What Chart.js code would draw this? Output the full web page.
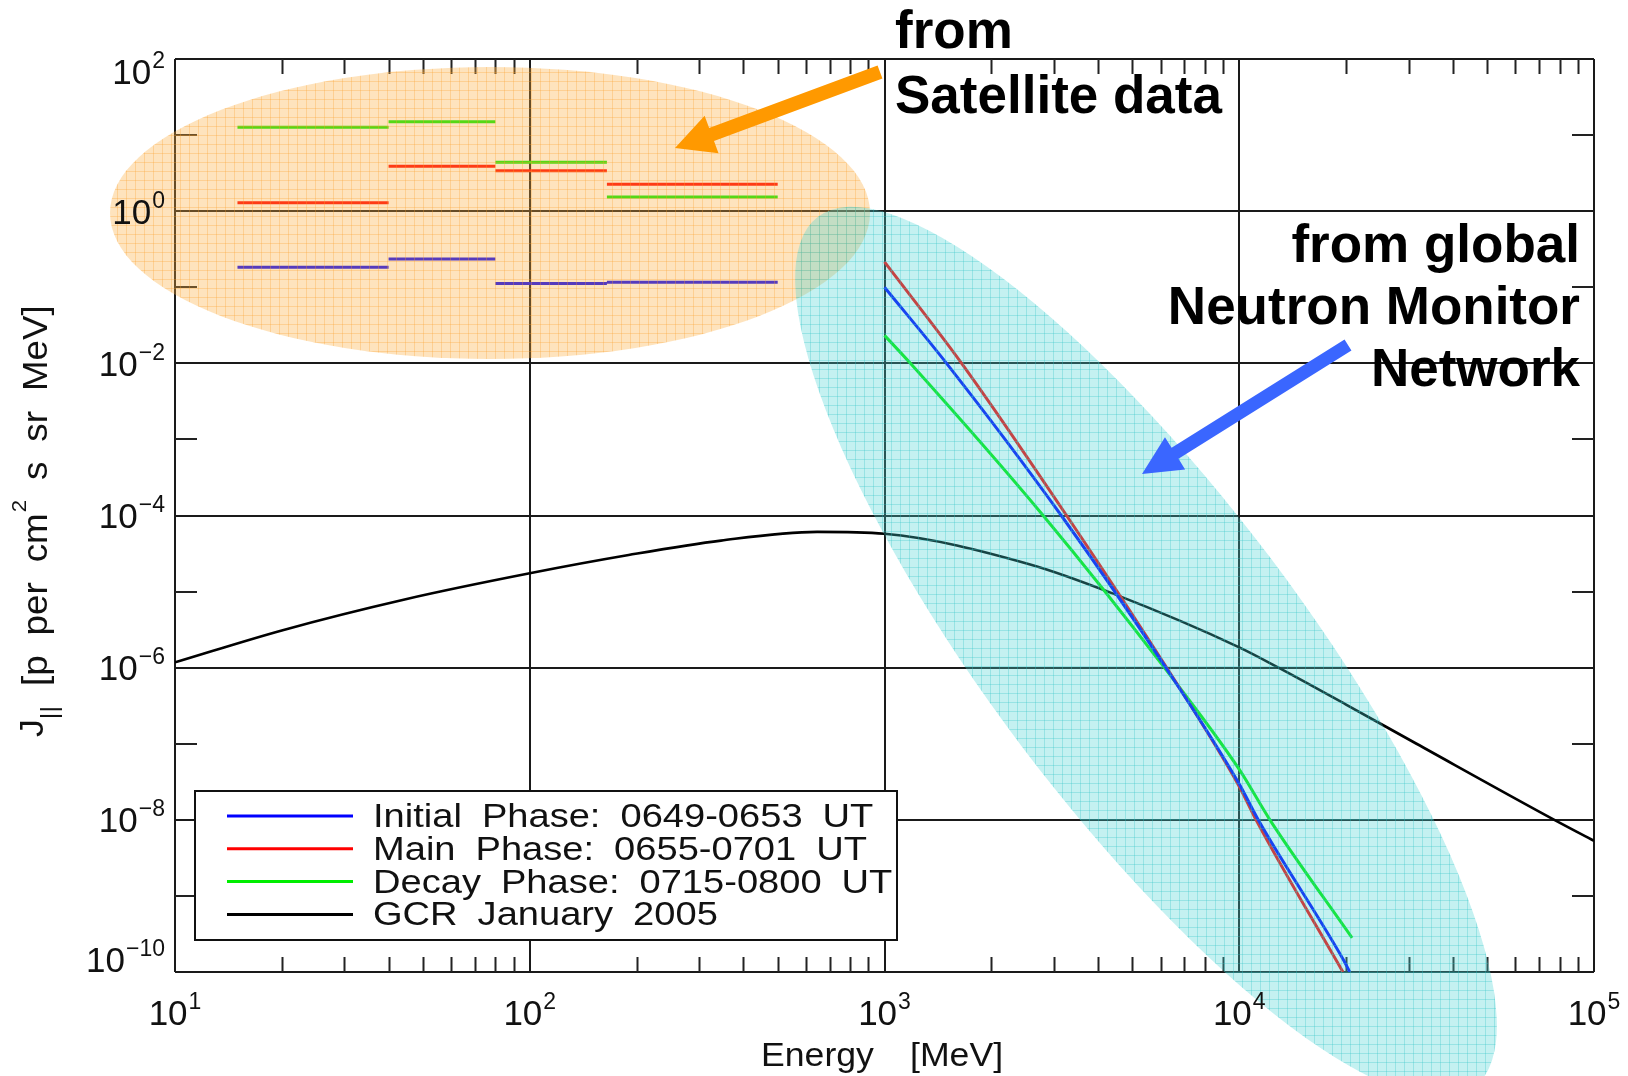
<!DOCTYPE html>
<html>
<head>
<meta charset="utf-8">
<script src="https://cdn.jsdelivr.net/npm/chart.js@4.4.1/dist/chart.umd.min.js"></script>
<style>
  html, body { margin: 0; padding: 0; background: #fff; }
  #wrap { width: 1628px; height: 1076px; }
</style>
</head>
<body>
<div id="wrap"><canvas id="fluxChart" width="1628" height="1076"></canvas></div>
<script>
// satellite channel edges [MeV] and fluxes per phase
var satEdges = [15, 40, 80, 165, 500];
var satInitial = [0.183, 0.236, 0.112, 0.116];
var satMain = [1.29, 3.9, 3.39, 2.26];
var satDecay = [12.7, 15.0, 4.4, 1.54];

// spectra from the neutron monitor network
var nmInitialE = [1000, 1496, 3150, 6210, 10000, 11310, 19600, 20500];
var nmInitialJ = [1.0e-1, 1e-2, 1e-4, 1e-6, 2.95e-8, 1e-8, 1.48e-10, 1e-10];
var nmMainE = [1000, 1650, 3260, 6240, 10000, 11150, 19600];
var nmMainJ = [2.15e-1, 1e-2, 1e-4, 1e-6, 2.75e-8, 1e-8, 1e-10];
var nmDecayE = [1000, 1183, 2800, 6150, 10000, 12200, 20800];
var nmDecayJ = [2.33e-2, 1e-2, 1e-4, 1e-6, 4.6e-8, 1e-8, 2.8e-10];

// galactic cosmic rays, January 2005
var gcrE = [10, 20, 44.7, 100, 190, 346, 646, 1000, 2560, 4430, 10000, 12900, 20000, 31600, 77300, 100000];
var gcrJ = [1.175e-6, 3.09e-6, 7.94e-6, 1.74e-5, 3.02e-5, 4.68e-5, 6.10e-5, 5.75e-5, 2.29e-5, 9.33e-6, 1.85e-6, 1.0e-6, 3.27e-7, 1.0e-7, 1.0e-8, 5.3e-9];

var seriesLabels = ["Initial Phase: 0649-0653 UT", "Main Phase: 0655-0701 UT", "Decay Phase: 0715-0800 UT", "GCR January 2005"];
var seriesColors = ["#0000ff", "#ff0000", "#00ee00", "#000000"];

// tick labels (powers of ten)
var xTickExp = [1, 2, 3, 4, 5];
var yTickExp = [2, 0, -2, -4, -6, -8, -10];
var yMinorExp = [1, -1, -3, -5, -7, -9];

var FONT = '"Liberation Sans", Arial, sans-serif';

function phasePoints(sat, nmE, nmJ) {
  var pts = [];
  sat.forEach(function (v, i) {
    pts.push({ x: satEdges[i], y: v });
    pts.push({ x: satEdges[i + 1], y: v });
    pts.push({ x: satEdges[i + 1], y: null });
  });
  nmE.forEach(function (e, i) { pts.push({ x: e, y: nmJ[i] }); });
  return pts;
}

function linePoints(xs, ys) {
  return xs.map(function (x, i) { return { x: x, y: ys[i] }; });
}

function makePattern(ctx, base, line) {
  var c = document.createElement('canvas');
  c.width = 9; c.height = 9;
  var g = c.getContext('2d');
  g.fillStyle = base; g.fillRect(0, 0, 9, 9);
  g.fillStyle = line; g.fillRect(0, 0, 9, 1); g.fillRect(0, 0, 1, 9);
  return ctx.createPattern(c, 'repeat');
}

function drawPow(ctx, exp, x, yBase, align) {
  var sup = exp < 0 ? '\u2212' + (-exp) : String(exp);
  ctx.font = '35px ' + FONT;
  var wb = ctx.measureText('10').width;
  ctx.font = '23px ' + FONT;
  var ws = ctx.measureText(sup).width;
  var total = wb + 1 + ws;
  var x0 = align === 'right' ? x - total : x - total / 2;
  ctx.textAlign = 'left';
  ctx.font = '35px ' + FONT;
  ctx.fillText('10', x0, yBase);
  ctx.font = '23px ' + FONT;
  ctx.fillText(sup, x0 + wb + 1, yBase - 16);
}

function drawWords(ctx, words, x, y, sx, gap) {
  ctx.textAlign = 'left';
  words.forEach(function (w) {
    ctx.save();
    ctx.translate(x, y);
    ctx.scale(sx, 1);
    ctx.fillText(w, 0, 0);
    ctx.restore();
    x += ctx.measureText(w).width * sx + gap;
  });
  return x;
}

function arrow(ctx, tx, ty, hx, hy, shaft, headLen, headHalf, color) {
  var dx = hx - tx, dy = hy - ty, len = Math.sqrt(dx * dx + dy * dy);
  var ux = dx / len, uy = dy / len, px = -uy, py = ux;
  var bx = hx - ux * headLen, by = hy - uy * headLen;
  ctx.fillStyle = color;
  ctx.beginPath();
  ctx.moveTo(tx + px * shaft / 2, ty + py * shaft / 2);
  ctx.lineTo(bx + px * shaft / 2, by + py * shaft / 2);
  ctx.lineTo(bx + px * headHalf, by + py * headHalf);
  ctx.lineTo(hx, hy);
  ctx.lineTo(bx - px * headHalf, by - py * headHalf);
  ctx.lineTo(bx - px * shaft / 2, by - py * shaft / 2);
  ctx.lineTo(tx - px * shaft / 2, ty - py * shaft / 2);
  ctx.closePath();
  ctx.fill();
}

var framePlugin = {
  id: 'frame',
  beforeDatasetsDraw: function (chart) {
    var ctx = chart.ctx, a = chart.chartArea, sx = chart.scales.x, sy = chart.scales.y;
    ctx.save();
    ctx.strokeStyle = '#222';
    ctx.lineWidth = 2;
    ctx.beginPath();
    for (var d = 10; d < 1e5; d *= 10) {
      for (var m = 2; m <= 9; m++) {
        var px = Math.round(sx.getPixelForValue(d * m)) + 0.5;
        ctx.moveTo(px, a.bottom); ctx.lineTo(px, a.bottom - 15);
        ctx.moveTo(px, a.top); ctx.lineTo(px, a.top + 15);
      }
    }
    yMinorExp.forEach(function (e) {
      var py = Math.round(sy.getPixelForValue(Math.pow(10, e)));
      ctx.moveTo(a.left, py); ctx.lineTo(a.left + 22, py);
      ctx.moveTo(a.right, py); ctx.lineTo(a.right - 22, py);
    });
    ctx.stroke();
    ctx.restore();
  },
  afterDatasetsDraw: function (chart) {
    var ctx = chart.ctx, a = chart.chartArea, sx = chart.scales.x, sy = chart.scales.y;
    ctx.save();

    // shaded regions
    ctx.fillStyle = makePattern(ctx, 'rgba(252,172,62,0.34)', 'rgba(250,160,45,0.30)');
    ctx.beginPath();
    ctx.ellipse(490, 213, 380, 146, 0, 0, Math.PI * 2);
    ctx.fill();
    ctx.fillStyle = makePattern(ctx, 'rgba(70,210,212,0.32)', 'rgba(45,195,200,0.30)');
    ctx.beginPath();
    ctx.ellipse(1146, 652, 545, 156, 53 * Math.PI / 180, 0, Math.PI * 2);
    ctx.fill();

    // arrows
    arrow(ctx, 880, 72, 675, 148, 14, 39, 20, '#ff9900');
    arrow(ctx, 1348, 345, 1142, 474, 13, 39, 19, '#3a66ff');

    // annotation text
    ctx.fillStyle = '#000';
    ctx.font = 'bold 53px ' + FONT;
    ctx.textAlign = 'left';
    ctx.fillText('from', 895, 48);
    ctx.fillText('Satellite data', 895, 113);
    ctx.textAlign = 'right';
    ctx.fillText('from global', 1580, 262);
    ctx.fillText('Neutron Monitor', 1580, 324);
    ctx.fillText('Network', 1580, 386);

    // legend
    ctx.fillStyle = '#fff';
    ctx.fillRect(195, 791, 702, 149);
    ctx.strokeStyle = '#111';
    ctx.lineWidth = 2;
    ctx.strokeRect(195, 791, 702, 149);
    chart.data.datasets.forEach(function (ds, i) {
      var ly = 816 + i * 32.8;
      ctx.strokeStyle = ds.borderColor;
      ctx.lineWidth = 3;
      ctx.beginPath();
      ctx.moveTo(227, ly); ctx.lineTo(353, ly);
      ctx.stroke();
      ctx.fillStyle = '#111';
      ctx.font = '34px ' + FONT;
      drawWords(ctx, ds.label.split(' '), 373, ly + 11, 1.12, 20);
    });

    // tick labels
    ctx.fillStyle = '#111';
    xTickExp.forEach(function (e) {
      drawPow(ctx, e, sx.getPixelForValue(Math.pow(10, e)), 1025, 'center');
    });
    yTickExp.forEach(function (e) {
      var py = sy.getPixelForValue(Math.pow(10, e));
      py = Math.min(Math.max(py, a.top + 12.5), a.bottom - 12.5);
      drawPow(ctx, e, 165, py + 12.5, 'right');
    });

    // x title
    ctx.font = '33px ' + FONT;
    drawWords(ctx, ['Energy'], 761, 1066, 1.08, 0);
    drawWords(ctx, ['[MeV]'], 910, 1066, 1.08, 0);

    // y title, rotated
    ctx.save();
    ctx.translate(47, 737);
    ctx.rotate(-Math.PI / 2);
    ctx.font = '34px ' + FONT;
    var x = drawWords(ctx, ['J'], 0, -4, 1.05, 0);
    ctx.font = '24px ' + FONT;
    x = drawWords(ctx, ['||'], x, 10, 1.05, 20);
    ctx.font = '35px ' + FONT;
    x = drawWords(ctx, ['[p', 'per', 'cm'], x, 0, 1.05, 20) - 20;
    ctx.font = '21px ' + FONT;
    x = drawWords(ctx, ['2'], x + 1, -21, 1.05, 20);
    ctx.font = '35px ' + FONT;
    drawWords(ctx, ['s', 'sr', 'MeV]'], x, 0, 1.05, 20);
    ctx.restore();

    ctx.restore();
  }
};

var phaseSat = [satInitial, satMain, satDecay];
var phaseE = [nmInitialE, nmMainE, nmDecayE];
var phaseJ = [nmInitialJ, nmMainJ, nmDecayJ];

var datasets = phaseSat.map(function (sat, i) {
  return {
    label: seriesLabels[i],
    data: phasePoints(sat, phaseE[i], phaseJ[i]),
    borderColor: seriesColors[i],
    borderWidth: 3,
    showLine: true,
    spanGaps: false,
    pointRadius: 0,
    cubicInterpolationMode: 'monotone'
  };
});
datasets.push({
  label: seriesLabels[3],
  data: linePoints(gcrE, gcrJ),
  borderColor: seriesColors[3],
  borderWidth: 2.6,
  showLine: true,
  pointRadius: 0,
  cubicInterpolationMode: 'monotone'
});

var ctx = document.getElementById('fluxChart').getContext('2d');
var fluxChart = new Chart(ctx, {
  type: 'scatter',
  data: { datasets: datasets },
  options: {
    responsive: false,
    animation: false,
    layout: { padding: { left: 175, top: 59, right: 34, bottom: 104 } },
    plugins: { legend: { display: false }, tooltip: { enabled: false } },
    scales: {
      x: {
        type: 'logarithmic',
        min: 10,
        max: 1e5,
        afterBuildTicks: function (s) {
          s.ticks = xTickExp.map(function (e) { return { value: Math.pow(10, e) }; });
        },
        ticks: { display: false },
        grid: { color: '#1a1a1a', lineWidth: 2, drawTicks: false },
        border: { display: false }
      },
      y: {
        type: 'logarithmic',
        min: 1e-10,
        max: 1e2,
        afterBuildTicks: function (s) {
          s.ticks = yTickExp.map(function (e) { return { value: Math.pow(10, e) }; });
        },
        ticks: { display: false },
        grid: { color: '#1a1a1a', lineWidth: 2, drawTicks: false },
        border: { display: false }
      }
    }
  },
  plugins: [framePlugin]
});
</script>
</body>
</html>
